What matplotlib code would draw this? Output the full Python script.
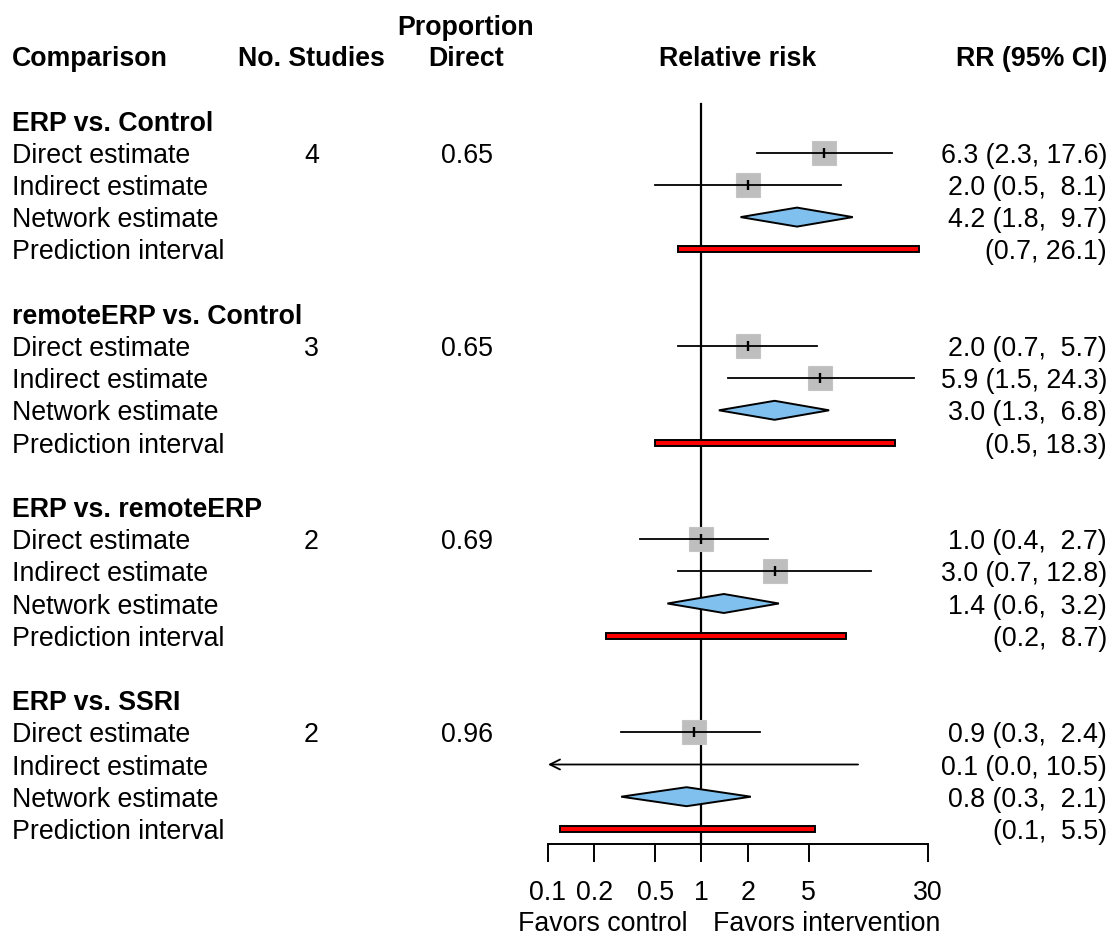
import matplotlib
matplotlib.use('Agg')
import matplotlib.pyplot as plt
import matplotlib.transforms as mtransforms
from matplotlib.patches import Polygon, Rectangle
from matplotlib.ticker import NullLocator

plt.rcParams['font.family'] = ['Liberation Sans', 'DejaVu Sans']

# ---------------- data ----------------
comparisons = ['ERP vs. Control', 'remoteERP vs. Control', 'ERP vs. remoteERP', 'ERP vs. SSRI']
n_studies = [4, 3, 2, 2]
prop_direct = [0.65, 0.65, 0.69, 0.96]

direct_est = [6.3, 2.0, 1.0, 0.9]
direct_lo = [2.3, 0.7, 0.4, 0.3]
direct_hi = [17.6, 5.7, 2.7, 2.4]

indirect_est = [2.0, 5.9, 3.0, 0.07]
indirect_lo = [0.5, 1.5, 0.7, 0.01]
indirect_hi = [8.1, 24.3, 12.8, 10.5]

network_est = [4.2, 3.0, 1.4, 0.8]
network_lo = [1.8, 1.3, 0.6, 0.3]
network_hi = [9.7, 6.8, 3.2, 2.1]

pi_lo = [0.7, 0.5, 0.24, 0.12]
pi_hi = [26.1, 18.3, 8.7, 5.5]

row_labels = ['Direct estimate', 'Indirect estimate', 'Network estimate', 'Prediction interval']
xticks = [0.1, 0.2, 0.5, 1, 2, 5, 30]
xtick_labels = ['0.1', '0.2', '0.5', '1', '2', '5', '30']
xlims = (0.1, 30)

# ---------------- layout ----------------
W, H = 1112, 936
FS = 19.3
y0, dy = 56.1, 32.2            # pixel y of row 0 and row spacing
base_off = 10.0 / dy           # baseline offset (rows) so caps are centred on marks

fig = plt.figure(figsize=(W / 100, H / 100), dpi=100)
ax = fig.add_axes([548 / W, 0, 380 / W, 1])
ax.set_xscale('log')
ax.set_xlim(*xlims)
ax.set_ylim((H - y0) / dy, -y0 / dy)
ax.patch.set_alpha(0)

for s in ['top', 'left', 'right']:
    ax.spines[s].set_visible(False)
k_axis = (844 - y0) / dy
ax.spines['bottom'].set_position(('data', k_axis))
ax.spines['bottom'].set_linewidth(1.4)
ax.set_yticks([])
ax.set_xticks(xticks)
ax.set_xticklabels(xtick_labels)
ax.xaxis.set_minor_locator(NullLocator())
ax.tick_params(axis='x', direction='out', length=12.6, width=1.4, pad=13.5, labelsize=FS)

# reference line
ax.plot([1, 1], [(104 - y0) / dy, k_axis], color='black', lw=1.6, zorder=1)

trans = mtransforms.blended_transform_factory(fig.transFigure, ax.transData)

def fx(px):
    return px / W

# headers
hdr_off = 10.0 / dy
ax.text(fx(12), hdr_off, 'Comparison', transform=trans, ha='left', va='baseline', fontsize=FS, fontweight='bold')
ax.text(fx(311.5), hdr_off, 'No. Studies', transform=trans, ha='center', va='baseline', fontsize=FS, fontweight='bold')
ax.text(fx(466), hdr_off, 'Direct', transform=trans, ha='center', va='baseline', fontsize=FS, fontweight='bold')
ax.text(fx(466), hdr_off - 31 / dy, 'Proportion', transform=trans, ha='center', va='baseline', fontsize=FS, fontweight='bold')
ax.text(fx(738), hdr_off, 'Relative risk', transform=trans, ha='center', va='baseline', fontsize=FS, fontweight='bold')
ax.text(fx(1107), hdr_off, 'RR (95% CI)', transform=trans, ha='right', va='baseline', fontsize=FS, fontweight='bold')

sq_ms = 24 * 72 / 100
dh = 9.5 / dy      # diamond half-height
bh = 6.0 / dy      # prediction bar height

for g in range(len(comparisons)):
    base = 2 + 6 * g
    ax.text(fx(12), base + base_off, comparisons[g], transform=trans, ha='left', va='baseline',
            fontsize=FS, fontweight='bold')
    for i, lab in enumerate(row_labels):
        ax.text(fx(12), base + 1 + i + base_off, lab, transform=trans, ha='left', va='baseline', fontsize=FS)
    ax.text(fx(311.5), base + 1 + base_off, str(n_studies[g]), transform=trans, ha='center',
            va='baseline', fontsize=FS)
    ax.text(fx(467), base + 1 + base_off, f'{prop_direct[g]:.2f}', transform=trans, ha='center',
            va='baseline', fontsize=FS)

    # direct & indirect
    for j, (e, lo, hi) in enumerate([(direct_est[g], direct_lo[g], direct_hi[g]),
                                     (indirect_est[g], indirect_lo[g], indirect_hi[g])]):
        k = base + 1 + j
        if lo < xlims[0]:
            ax.annotate('', xy=(xlims[0], k), xytext=(min(hi, xlims[1]), k),
                        arrowprops=dict(arrowstyle='->,head_length=0.72,head_width=0.36',
                                        lw=1.3, color='black', shrinkA=0, shrinkB=0,
                                        mutation_scale=10), zorder=3)
        else:
            ax.plot([lo, hi], [k, k], color='black', lw=1.3, zorder=3)
        if xlims[0] < e < xlims[1]:
            ax.plot([e], [k], marker='s', ms=sq_ms, mfc='#BEBEBE', mec='#C4C4C4', mew=0.8,
                    linestyle='none', zorder=2)
            ax.plot([e], [k], marker='|', ms=7, mew=1.7, color='black', linestyle='none', zorder=4)
        ax.text(fx(1107), k + base_off, f'{e:.1f} ({lo:.1f}, {hi:4.1f})', transform=trans,
                ha='right', va='baseline', fontsize=FS)

    # network diamond
    k = base + 3
    e, lo, hi = network_est[g], network_lo[g], network_hi[g]
    ax.add_patch(Polygon([(lo, k), (e, k - dh), (hi, k), (e, k + dh)], closed=True,
                         facecolor='#80C0EE', edgecolor='black', lw=1.4, zorder=3))
    ax.text(fx(1107), k + base_off, f'{e:.1f} ({lo:.1f}, {hi:4.1f})', transform=trans,
            ha='right', va='baseline', fontsize=FS)

    # prediction interval
    k = base + 4
    lo, hi = pi_lo[g], pi_hi[g]
    ax.add_patch(Rectangle((lo, k - bh / 2), hi - lo, bh, facecolor='#FF0000', edgecolor='black',
                           lw=1.4, zorder=3))
    ax.text(fx(1107), k + base_off, f'({lo:.1f}, {hi:4.1f})', transform=trans,
            ha='right', va='baseline', fontsize=FS)

# favours labels
ftrans = fig.transFigure
ax.text(fx(688), 1 - 931 / H, 'Favors control', transform=ftrans, ha='right', va='baseline', fontsize=FS)
ax.text(fx(713), 1 - 931 / H, 'Favors intervention', transform=ftrans, ha='left', va='baseline', fontsize=FS)

fig.savefig('out.png', dpi=100)
